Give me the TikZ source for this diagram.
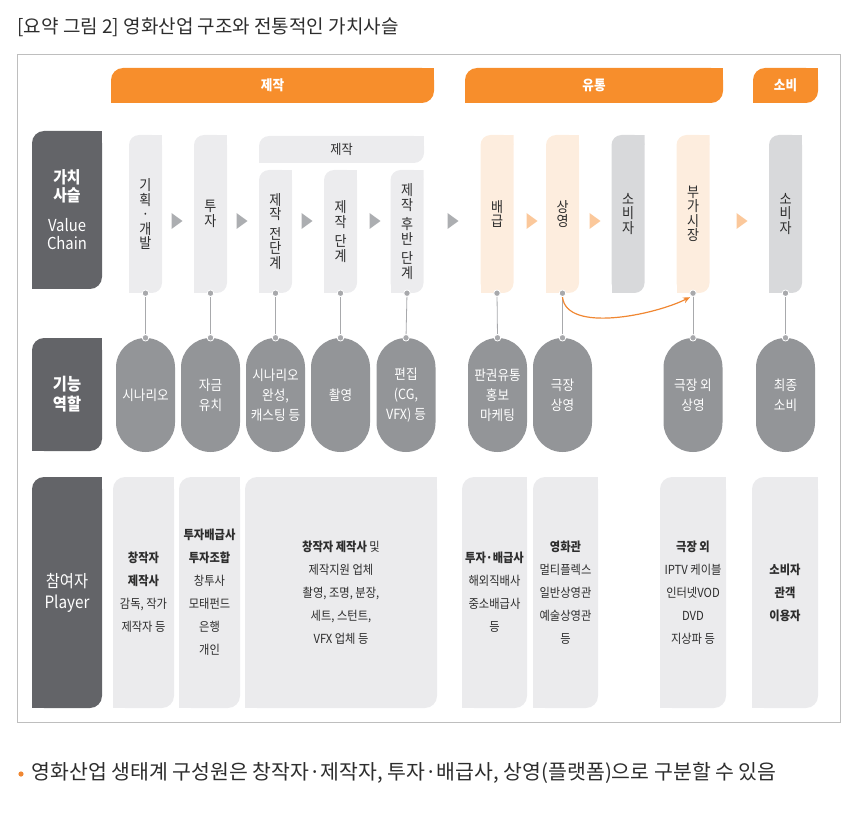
\documentclass[tikz,border=0pt]{standalone}
\usepackage{fontspec}
\setmainfont{Noto Sans CJK KR}[FakeStretch=0.9]
\newfontfamily\widefont{Noto Sans CJK KR}
\usepackage{tikz}
\usetikzlibrary{arrows.meta, positioning, calc}
\usepackage{xcolor}

\definecolor{headorange}{RGB}{247,142,44}
\definecolor{darklabel}{RGB}{99,100,104}
\definecolor{ovalgray}{RGB}{147,149,152}
\definecolor{colgray}{RGB}{236,236,238}
\definecolor{colorange}{RGB}{253,237,222}
\definecolor{colmid}{RGB}{216,217,219}
\definecolor{playergray}{RGB}{235,235,237}
\definecolor{framegray}{RGB}{190,190,190}
\definecolor{linkgray}{RGB}{168,169,172}
\definecolor{trigray}{RGB}{172,174,177}
\definecolor{triorange}{RGB}{251,200,155}
\definecolor{floworange}{RGB}{240,135,50}
\definecolor{textdark}{RGB}{45,45,45}

\tikzset{
  leaf/.style 2 args={path picture={
      \fill[#1, rounded corners=#2] (path picture bounding box.north west) rectangle (path picture bounding box.south east);
      \fill[#1] (path picture bounding box.north east) rectangle ++(-#2,-#2);
      \fill[#1] (path picture bounding box.south west) rectangle ++(#2,#2);}},
  header/.style={rectangle, leaf={headorange}{12pt}, minimum height=35pt, inner sep=0pt,
      text=white, font=\fontsize{14}{16}\selectfont\bfseries},
  rowlabel/.style={rectangle, leaf={darklabel}{12pt}, minimum width=70pt, inner sep=0pt,
      text=white, align=center},
  stage/.style={rectangle, leaf={#1}{10pt}, minimum width=33pt, inner sep=0pt,
      text=textdark, align=center, font=\fontsize{14.5}{14.5}\selectfont},
  role/.style={rectangle, rounded corners=29.5pt, fill=ovalgray, minimum width=59pt,
      minimum height=114pt, inner sep=0pt, text=white, align=center,
      font=\fontsize{14}{20}\selectfont},
  player/.style={rectangle, leaf={playergray}{12pt}, minimum height=231pt, inner sep=0pt,
      text=textdark, align=center, font=\fontsize{12.5}{23}\selectfont},
  dot/.style={circle, fill=linkgray, draw=white, line width=0.8pt, inner sep=0pt, minimum size=6.5pt},
  link/.style={draw=linkgray, line width=0.8pt},
}

\begin{document}
\begin{tikzpicture}[x=1pt, y=-1pt, >=Stealth]
  \useasboundingbox (0,0) rectangle (860,813);

  % title and frame
  \node[anchor=west, text=textdark, font=\widefont\fontsize{19}{22}\selectfont] (title) at (14,27) {[요약 그림 2] 영화산업 구조와 전통적인 가치사슬};
  \draw[framegray, line width=1pt] (17,55) rectangle (840,722);

  % stage headers
  \node[header, minimum width=323pt] (hprod) at (272.5,85.5) {제작};
  \node[header, minimum width=258pt] (hdist) at (594,85.5) {유통};
  \node[header, minimum width=65pt] (hcons) at (785.5,85.5) {소비};

  % row labels
  \node[rowlabel, minimum height=158pt, font=\fontsize{16.5}{18}\selectfont] (lchain) at (67,210) {\textbf{가치}\\\textbf{사슬}\\[12pt]Value\\Chain};
  \node[rowlabel, minimum height=113pt, font=\fontsize{17}{20}\selectfont\bfseries] (lrole) at (67,394.5) {기능\\역할};
  \node[rowlabel, minimum height=231pt, font=\fontsize{17}{21}\selectfont] (lplayer) at (67,592.5) {참여자\\Player};

  % value chain
  \node[stage=colgray, minimum height=158pt] (plan) at (145.5,214) {기\\획\\·\\개\\발};
  \node[stage=colgray, minimum height=158pt] (invest) at (210.5,214) {투\\자};
  \node[stage=colgray, minimum width=165pt, minimum height=27pt, font=\fontsize{13.5}{14}\selectfont] (prodbar) at (341.5,149.5) {제작};
  \node[stage=colgray, minimum height=123pt] (preprod) at (275.5,231.5) {제\\작\\[5pt]전\\단\\계};
  \node[stage=colgray, minimum height=123pt] (shoot) at (340.5,231.5) {제\\작\\[5pt]단\\계};
  \node[stage=colgray, minimum height=123pt] (postprod) at (407,231.5) {제\\작\\[5pt]후\\반\\[5pt]단\\계};
  \node[stage=colorange, minimum height=158pt] (distrib) at (497,214) {배\\급};
  \node[stage=colorange, minimum height=158pt] (screen) at (562.5,214) {상\\영};
  \node[stage=colmid, minimum height=158pt] (consa) at (628,214) {소\\비\\자};
  \node[stage=colorange, minimum height=158pt] (extra) at (693,214) {부\\가\\시\\장};
  \node[stage=colmid, minimum height=158pt] (consb) at (785.5,214) {소\\비\\자};

  % step arrows
  \foreach \x in {177,242,307,375,453}
    \fill[trigray] (\x-5.5,213) -- (\x+5.5,221) -- (\x-5.5,229) -- cycle;
  \foreach \x in {532,595,742}
    \fill[triorange] (\x-5.5,213) -- (\x+5.5,221) -- (\x-5.5,229) -- cycle;

  % roles
  \node[role] (rscen) at (145.5,395) {시나리오};
  \node[role] (rfund) at (210.5,395) {자금\\유치};
  \node[role] (rcast) at (275.5,395) {시나리오\\완성,\\캐스팅 등};
  \node[role] (rshoot) at (340.5,395) {촬영};
  \node[role] (redit) at (406,395) {편집\\(CG,\\VFX) 등};
  \node[role] (rrights) at (497.5,395) {판권유통\\홍보\\마케팅};
  \node[role] (rtheat) at (562.5,395) {극장\\상영};
  \node[role] (rother) at (693,395) {극장 외\\상영};
  \node[role] (rfinal) at (785.5,395) {최종\\소비};

  % links
  \foreach \a/\b in {plan/rscen, invest/rfund, preprod/rcast, shoot/rshoot, postprod/redit,
                     distrib/rrights, screen/rtheat, extra/rother, consb/rfinal}
    \draw[link] (\a.south) node[dot] {} -- (\b.north) node[dot] {};

  \draw[floworange, line width=1.2pt, -{Stealth[length=7pt, width=6pt]}]
    ([yshift=-4pt]screen.south) .. controls +(4,36) and +(-36,18) .. ([xshift=-3pt, yshift=-4pt]extra.south);

  % players
  \node[player, minimum width=61pt] (pcreator) at (143.5,592.5) {\textbf{창작자}\\\textbf{제작사}\\감독, 작가\\제작자 등};
  \node[player, minimum width=61pt] (pinvest) at (209.5,592.5) {\textbf{투자배급사}\\\textbf{투자조합}\\창투사\\모태펀드\\은행\\개인};
  \node[player, minimum width=192pt] (pprod) at (341,592.5) {\textbf{창작자 제작사} 및\\제작지원 업체\\촬영, 조명, 분장,\\세트, 스턴트,\\VFX 업체 등};
  \node[player, minimum width=65pt] (pdist) at (494.5,592.5) {\textbf{투자·배급사}\\해외직배사\\중소배급사\\등};
  \node[player, minimum width=65pt] (ptheat) at (565.5,592.5) {\textbf{영화관}\\멀티플렉스\\일반상영관\\예술상영관\\등};
  \node[player, minimum width=66pt] (pother) at (693,592.5) {\textbf{극장 외}\\IPTV 케이블\\인터넷VOD\\DVD\\지상파 등};
  \node[player, minimum width=66pt] (pcons) at (785,592.5) {\textbf{소비자}\\\textbf{관객}\\\textbf{이용자}};

  % note
  \fill[floworange] (21,774) circle[radius=2.6pt];
  \node[anchor=west, text=textdark, font=\widefont\fontsize{20.5}{22}\selectfont] (note) at (28,773) {영화산업 생태계 구성원은 창작자·제작자, 투자·배급사, 상영(플랫폼)으로 구분할 수 있음};
\end{tikzpicture}
\end{document}
